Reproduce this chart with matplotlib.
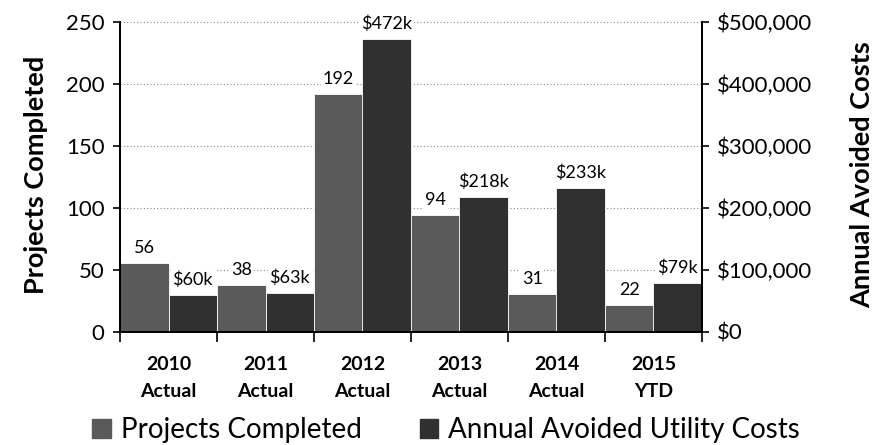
import matplotlib
matplotlib.use("Agg")
import matplotlib.pyplot as plt
from matplotlib.ticker import FuncFormatter, FixedLocator
from matplotlib.patches import Patch

plt.rcParams['font.family'] = ['Lato', 'DejaVu Sans']

years = ["2010", "2011", "2012", "2013", "2014", "2015"]
kinds = ["Actual", "Actual", "Actual", "Actual", "Actual", "YTD"]
projects = [56, 38, 192, 94, 31, 22]
costs = [60000, 63000, 472000, 218000, 233000, 79000]
cost_labels = ["$60k", "$63k", "$472k", "$218k", "$233k", "$79k"]

c_proj = "#5a5a5a"
c_cost = "#303030"

fig = plt.figure(figsize=(8.81, 4.45), dpi=100)
ax = fig.add_axes([120/881, 1-332/445, (702-120)/881, (332-22)/445])
ax2 = ax.twinx()

n = len(years)
xs = list(range(n))
w = 0.5
ax.bar([x - w/2 for x in xs], projects, width=w, color=c_proj, edgecolor="white", linewidth=0.6, zorder=2)
ax2.bar([x + w/2 for x in xs], costs, width=w, color=c_cost, edgecolor="white", linewidth=0.6, zorder=2)

ax.set_xlim(-0.5, n - 0.5)
ax.set_ylim(0, 250)
ax2.set_ylim(0, 500000)
ax.set_yticks([0, 50, 100, 150, 200, 250])
ax2.set_yticks([0, 100000, 200000, 300000, 400000, 500000])
ax2.yaxis.set_major_formatter(FuncFormatter(lambda v, p: "${:,.0f}".format(v)))

ax.yaxis.grid(True, linestyle=(0, (1, 2)), color="#888888", linewidth=0.8)
ax.set_axisbelow(True)

ax.xaxis.set_major_locator(FixedLocator([x - 0.5 for x in range(n + 1)]))
ax.xaxis.set_major_formatter(FuncFormatter(lambda v, p: ""))
ax.xaxis.set_minor_locator(FixedLocator(xs))
ax.set_xticklabels([f"{y}\n{k}" for y, k in zip(years, kinds)], minor=True,
                   fontsize=14, fontweight="bold", linespacing=1.75)
ax.tick_params(axis="x", which="major", length=7, direction="out", width=1.2)
ax.tick_params(axis="x", which="minor", length=0, pad=17)
ax.tick_params(axis="y", labelsize=16, length=5, width=1.2, pad=6)
ax2.tick_params(axis="y", labelsize=16, length=5, width=1.2, pad=6)

for a in (ax, ax2):
    a.spines["top"].set_visible(False)
    for s in ("left", "right", "bottom"):
        a.spines[s].set_linewidth(1.4)
        a.spines[s].set_color("black")

ymid = 1 - 175/445
fig.text(36/881, ymid, "Projects Completed", rotation=90, ha="center", va="center",
         fontsize=19.5, fontweight="bold")
fig.text(862/881, ymid, "Annual Avoided Costs", rotation=90, ha="center", va="center",
         fontsize=19.5, fontweight="bold")

bbox = dict(boxstyle="square,pad=0.1", fc="white", ec="none")
for x, v in zip(xs, projects):
    ax.annotate(str(v), (x - w/2, v), xytext=(0, 5), textcoords="offset points",
                ha="center", va="bottom", fontsize=13, bbox=bbox, zorder=5)
for x, v, t in zip(xs, costs, cost_labels):
    ax2.annotate(t, (x + w/2, v), xytext=(0, 5), textcoords="offset points",
                 ha="center", va="bottom", fontsize=13, bbox=bbox, zorder=5)

handles = [Patch(color=c_proj), Patch(color=c_cost)]
fig.legend(handles, ["Projects Completed", "Annual Avoided Utility Costs"],
           loc="center", bbox_to_anchor=(446/881, 1-430/445), ncol=2, frameon=False,
           fontsize=20, handlelength=0.65, handleheight=0.65, handletextpad=0.36,
           columnspacing=2.1, borderpad=0, borderaxespad=0)

fig.savefig("out.png", dpi=100)
